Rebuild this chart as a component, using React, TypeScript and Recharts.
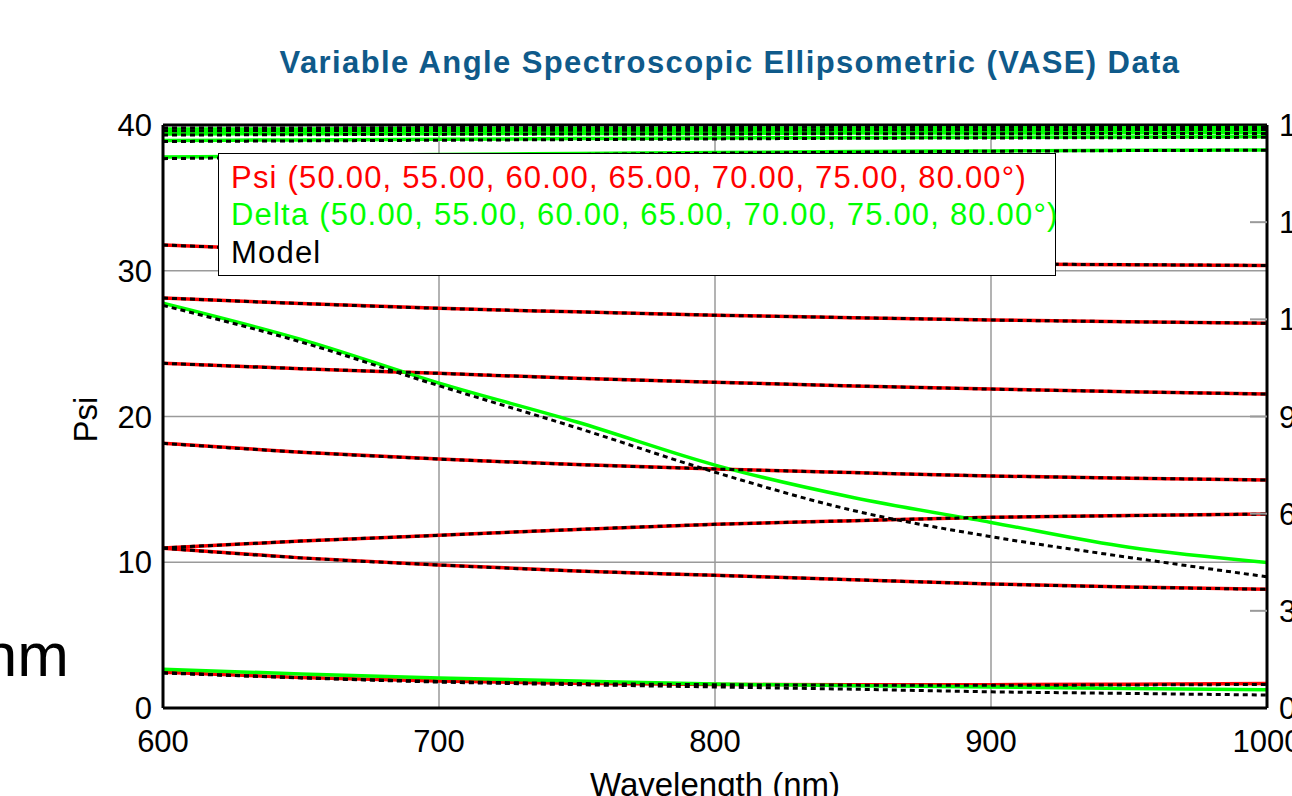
import React from 'react';
import { LineChart, Line, XAxis, YAxis, CartesianGrid, ReferenceLine } from 'recharts';

// Wavelength (nm)
const wavelengths = [600, 650, 700, 750, 800, 850, 900, 950, 1000];

// Psi (deg), measured, one array per angle of incidence
const psi50 = [2.45, 2.1, 1.85, 1.7, 1.62, 1.6, 1.6, 1.63, 1.68];
const psi55 = [10.96, 10.3, 9.81, 9.4, 9.1, 8.8, 8.51, 8.3, 8.14];
const psi60 = [10.98, 11.45, 11.85, 12.25, 12.6, 12.85, 13.08, 13.2, 13.31];
const psi65 = [18.16, 17.55, 17.08, 16.7, 16.4, 16.15, 15.92, 15.77, 15.64];
const psi70 = [23.65, 23.28, 22.96, 22.62, 22.35, 22.1, 21.88, 21.7, 21.54];
const psi75 = [28.13, 27.75, 27.42, 27.18, 26.95, 26.78, 26.62, 26.5, 26.4];
const psi80 = [31.77, 31.4, 31.1, 30.9, 30.75, 30.6, 30.47, 30.42, 30.36];

// Delta (deg), measured
const delta50 = [12.0, 10.5, 9.3, 8.3, 7.4, 6.9, 6.5, 6.0, 5.6];
const delta55 = [125.0, 113.8, 100.3, 88.3, 75.0, 65.0, 57.3, 49.6, 44.9];
const delta60 = [170.1, 170.5, 170.9, 171.2, 171.5, 171.8, 172.0, 172.2, 172.3];
const delta65 = [175.2, 175.4, 175.6, 175.8, 176.0, 176.1, 176.2, 176.3, 176.4];
const delta70 = [177.2, 177.3, 177.3, 177.4, 177.4, 177.5, 177.5, 177.6, 177.6];
const delta75 = [178.0, 178.1, 178.1, 178.2, 178.3, 178.3, 178.4, 178.4, 178.5];
const delta80 = [178.8, 178.8, 178.9, 178.9, 179.0, 179.0, 179.1, 179.1, 179.2];

// Model Psi (coincides with measured Psi)
const modelPsi50 = [2.42, 2.08, 1.82, 1.68, 1.6, 1.57, 1.56, 1.58, 1.62];
const modelPsi55 = psi55;
const modelPsi60 = psi60;
const modelPsi65 = psi65;
const modelPsi70 = psi70;
const modelPsi75 = psi75;
const modelPsi80 = psi80;

// Model Delta
const modelDelta50 = [10.8, 9.3, 8.0, 7.2, 6.5, 5.8, 5.0, 4.5, 4.0];
const modelDelta55 = [124.3, 113.0, 99.5, 86.5, 72.8, 61.0, 52.9, 46.5, 40.5];
const modelDelta60 = [169.6, 170.1, 170.5, 170.9, 171.3, 171.6, 171.9, 172.1, 172.2];
const modelDelta65 = [174.9, 175.1, 175.3, 175.5, 175.7, 175.9, 176.0, 176.1, 176.2];
const modelDelta70 = [176.9, 177.0, 177.1, 177.2, 177.2, 177.3, 177.3, 177.4, 177.4];
const modelDelta75 = [178.2, 178.3, 178.3, 178.4, 178.4, 178.5, 178.5, 178.6, 178.6];
const modelDelta80 = [179.1, 179.1, 179.2, 179.2, 179.2, 179.3, 179.3, 179.3, 179.4];

const psiTicks = [0, 10, 20, 30, 40];
const deltaTicks = [0, 30, 60, 90, 120, 150, 180];
const wavelengthTicks = [600, 700, 800, 900, 1000];

const titleText = 'Variable Angle Spectroscopic Ellipsometric (VASE) Data';
const legendPsi = 'Psi (50.00, 55.00, 60.00, 65.00, 70.00, 75.00, 80.00°)';
const legendDelta = 'Delta (50.00, 55.00, 60.00, 65.00, 70.00, 75.00, 80.00°)';
const legendModel = 'Model';

const psiSeries: Record<string, number[]> = {
  psi50, psi55, psi60, psi65, psi70, psi75, psi80,
};
const deltaSeries: Record<string, number[]> = {
  delta50, delta55, delta60, delta65, delta70, delta75, delta80,
};
const modelPsiSeries: Record<string, number[]> = {
  modelPsi50, modelPsi55, modelPsi60, modelPsi65, modelPsi70, modelPsi75, modelPsi80,
};
const modelDeltaSeries: Record<string, number[]> = {
  modelDelta50, modelDelta55, modelDelta60, modelDelta65, modelDelta70, modelDelta75, modelDelta80,
};

const rows = wavelengths.map((w, i) => {
  const r: Record<string, number> = { w };
  [psiSeries, deltaSeries, modelPsiSeries, modelDeltaSeries].forEach((group) => {
    Object.keys(group).forEach((k) => {
      r[k] = group[k][i];
    });
  });
  return r;
});

const FONT = '"Liberation Sans", Arial, Helvetica, sans-serif';

function PsiLabel(props: any) {
  const vb = props.viewBox || { x: 83, y: 125, width: 80, height: 583 };
  const x = vb.x + 14;
  const y = vb.y + vb.height / 2 + 3;
  return (
    <text
      x={x}
      y={y}
      transform={`rotate(-90, ${x}, ${y})`}
      textAnchor="middle"
      fontSize={33}
      fontFamily={FONT}
      fill="#000"
    >
      Psi
    </text>
  );
}

function RightTick(props: any) {
  const { x, y, payload } = props;
  const v = payload.value;
  const axisX = x - 12;
  return (
    <g>
      {v !== 0 && v !== 180 && (
        <line x1={axisX - 17} x2={axisX} y1={y} y2={y} stroke="#9a9a9a" strokeWidth={2} />
      )}
      <text x={x} y={y} dy="0.36em" textAnchor="start" fontSize={31} fontFamily={FONT} fill="#000">
        {v}
      </text>
    </g>
  );
}

export default function App() {
  return (
    <div
      style={{
        position: 'absolute',
        left: 0,
        top: 0,
        width: 1292,
        height: 796,
        overflow: 'hidden',
        background: '#fff',
        fontFamily: FONT,
      }}
    >
      <LineChart
        width={1400}
        height={796}
        data={rows}
        margin={{ top: 125, right: 53, bottom: 0, left: 83 }}
      >
        <CartesianGrid
          yAxisId="psi"
          stroke="#9a9a9a"
          strokeWidth={1.5}
          horizontalValues={[10, 20, 30]}
          verticalValues={[700, 800, 900]}
        />
        <XAxis
          dataKey="w"
          type="number"
          domain={[600, 1000]}
          ticks={wavelengthTicks}
          interval={0}
          allowDataOverflow
          height={88}
          tickLine={false}
          tickSize={0}
          tickMargin={22}
          axisLine={{ stroke: '#000', strokeWidth: 3 }}
          tick={{ fill: '#000', fontSize: 31, fontFamily: FONT }}
          label={{
            value: 'Wavelength (nm)',
            position: 'insideBottom',
            offset: 0,
            fill: '#000',
            fontSize: 33,
            fontFamily: FONT,
          }}
        />
        <YAxis
          yAxisId="psi"
          type="number"
          domain={[0, 40]}
          ticks={psiTicks}
          interval={0}
          width={80}
          tickLine={false}
          tickSize={0}
          tickMargin={11}
          axisLine={{ stroke: '#000', strokeWidth: 3 }}
          tick={{ fill: '#000', fontSize: 31, fontFamily: FONT }}
          label={<PsiLabel />}
        />
        <YAxis
          yAxisId="delta"
          orientation="right"
          type="number"
          domain={[0, 180]}
          ticks={deltaTicks}
          interval={0}
          width={80}
          tickLine={false}
          tickSize={0}
          tickMargin={12}
          axisLine={{ stroke: '#000', strokeWidth: 3 }}
          tick={<RightTick />}
        />
        <ReferenceLine yAxisId="psi" y={40} stroke="#000" strokeWidth={3} />

        {Object.keys(psiSeries).map((k) => (
          <Line
            key={k}
            yAxisId="psi"
            dataKey={k}
            type="monotone"
            stroke="#ff0000"
            strokeWidth={3.5}
            dot={false}
            activeDot={false}
            isAnimationActive={false}
          />
        ))}
        {Object.keys(deltaSeries).map((k) => (
          <Line
            key={k}
            yAxisId="delta"
            dataKey={k}
            type="monotone"
            stroke="#00ff00"
            strokeWidth={3.5}
            dot={false}
            activeDot={false}
            isAnimationActive={false}
          />
        ))}
        {Object.keys(modelPsiSeries).map((k) => (
          <Line
            key={k}
            yAxisId="psi"
            dataKey={k}
            type="monotone"
            stroke="#000"
            strokeWidth={3}
            strokeDasharray="5 4"
            dot={false}
            activeDot={false}
            isAnimationActive={false}
          />
        ))}
        {Object.keys(modelDeltaSeries).map((k) => (
          <Line
            key={k}
            yAxisId="delta"
            dataKey={k}
            type="monotone"
            stroke="#000"
            strokeWidth={3}
            strokeDasharray="5 4"
            dot={false}
            activeDot={false}
            isAnimationActive={false}
          />
        ))}
      </LineChart>

      {/* Title */}
      <div
        style={{
          position: 'absolute',
          left: 0,
          top: 47,
          width: 1460,
          textAlign: 'center',
          fontSize: 31,
          lineHeight: '31px',
          letterSpacing: 1.4,
          fontWeight: 'bold',
          color: '#0f5a8a',
          whiteSpace: 'nowrap',
        }}
      >
        {titleText}
      </div>

      {/* Legend box */}
      <div
        style={{
          position: 'absolute',
          left: 218,
          top: 153,
          width: 838,
          height: 123,
          boxSizing: 'border-box',
          border: '1.5px solid #000',
          background: '#fff',
        }}
      />
      <div style={{ position: 'absolute', left: 231, top: 162, fontSize: 31, lineHeight: '31px', letterSpacing: 1.2, color: '#ff0000', whiteSpace: 'nowrap' }}>
        {legendPsi}
      </div>
      <div style={{ position: 'absolute', left: 231, top: 199, fontSize: 31, lineHeight: '31px', letterSpacing: 1.2, color: '#00ff00', whiteSpace: 'nowrap' }}>
        {legendDelta}
      </div>
      <div style={{ position: 'absolute', left: 231, top: 237, fontSize: 31, lineHeight: '31px', letterSpacing: 1.2, color: '#000', whiteSpace: 'nowrap' }}>
        {legendModel}
      </div>

      {/* Partial slide text at left edge */}
      <div
        style={{
          position: 'absolute',
          left: -200,
          top: 624,
          width: 269,
          textAlign: 'right',
          fontSize: 62,
          lineHeight: '62px',
          color: '#000',
          whiteSpace: 'nowrap',
        }}
      >
        nm
      </div>
    </div>
  );
}
